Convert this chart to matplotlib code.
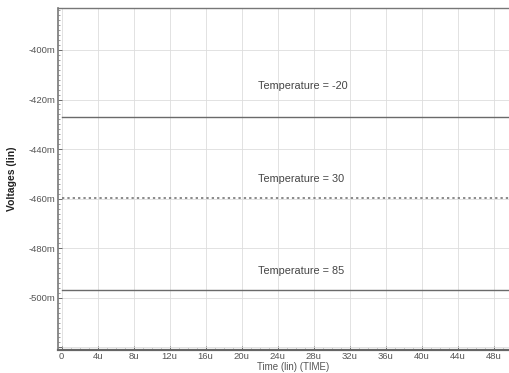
import matplotlib
matplotlib.use("Agg")
import matplotlib.pyplot as plt
from matplotlib.ticker import MultipleLocator, FuncFormatter

plt.rcParams['font.family'] = ['Liberation Sans', 'DejaVu Sans']

# transient sweep, output voltage at three temperatures (mV vs us)
time_us = [0, 50]
v_m20 = [-426.9, -426.9]
v_30 = [-459.8, -459.8]
v_85 = [-496.8, -496.8]
temp_labels = ['Temperature = -20', 'Temperature = 30', 'Temperature = 85']
label_gap = [11.0, 6.5, 6.5]

fig = plt.figure(figsize=(5.09, 3.73), dpi=100)
ax = fig.add_axes([0.114, 0.062, 0.886, 0.917])

ax.plot(time_us, v_m20, color='#6a6a6a', lw=1.0, ls='-')
ax.plot(time_us, v_30, color='#6a6a6a', lw=1.1, ls=(0, (1.5, 2.0)))
ax.plot(time_us, v_85, color='#6a6a6a', lw=1.0, ls='-')

for lbl, v, g in zip(temp_labels, [v_m20, v_30, v_85], label_gap):
    ax.text(21.8, v[0] + g, lbl, fontsize=7.8, color='#444444')

ax.set_xlim(-0.4, 49.7)
ax.set_ylim(-521, -383)

ax.xaxis.set_major_locator(MultipleLocator(4))
ax.xaxis.set_minor_locator(MultipleLocator(1))
ax.yaxis.set_major_locator(MultipleLocator(20))
ax.yaxis.set_minor_locator(MultipleLocator(2))
ax.xaxis.set_major_formatter(FuncFormatter(lambda x, p: '%du' % x if x > 0 else '0'))
ax.yaxis.set_major_formatter(FuncFormatter(lambda y, p: '%dm' % y if y >= -500 else ''))

ax.tick_params(axis='both', which='major', labelsize=6.8, colors='#555555',
               length=3, width=0.6, direction='in', pad=2)
ax.tick_params(axis='x', which='major', pad=1.5)
ax.tick_params(axis='both', which='minor', length=1.5, width=0.5,
               direction='in', colors='#777777')

ax.grid(True, which='major', color='#dddddd', lw=0.6)

ax.spines['right'].set_visible(False)
ax.spines['top'].set_color('#777777')
ax.spines['top'].set_linewidth(1.0)
ax.spines['left'].set_color('#777777')
ax.spines['left'].set_linewidth(1.2)
ax.spines['bottom'].set_color('#666666')
ax.spines['bottom'].set_linewidth(1.6)

# axis titles
fig.text(0.576, 0.004, 'Time (lin) (TIME)', fontsize=7.0, color='#555555',
         ha='center', va='bottom')
ax.set_ylabel('Voltages (lin)', fontsize=7.5, fontweight='bold', color='#222222',
              labelpad=8)

fig.savefig('out.png', dpi=100, facecolor='white')
